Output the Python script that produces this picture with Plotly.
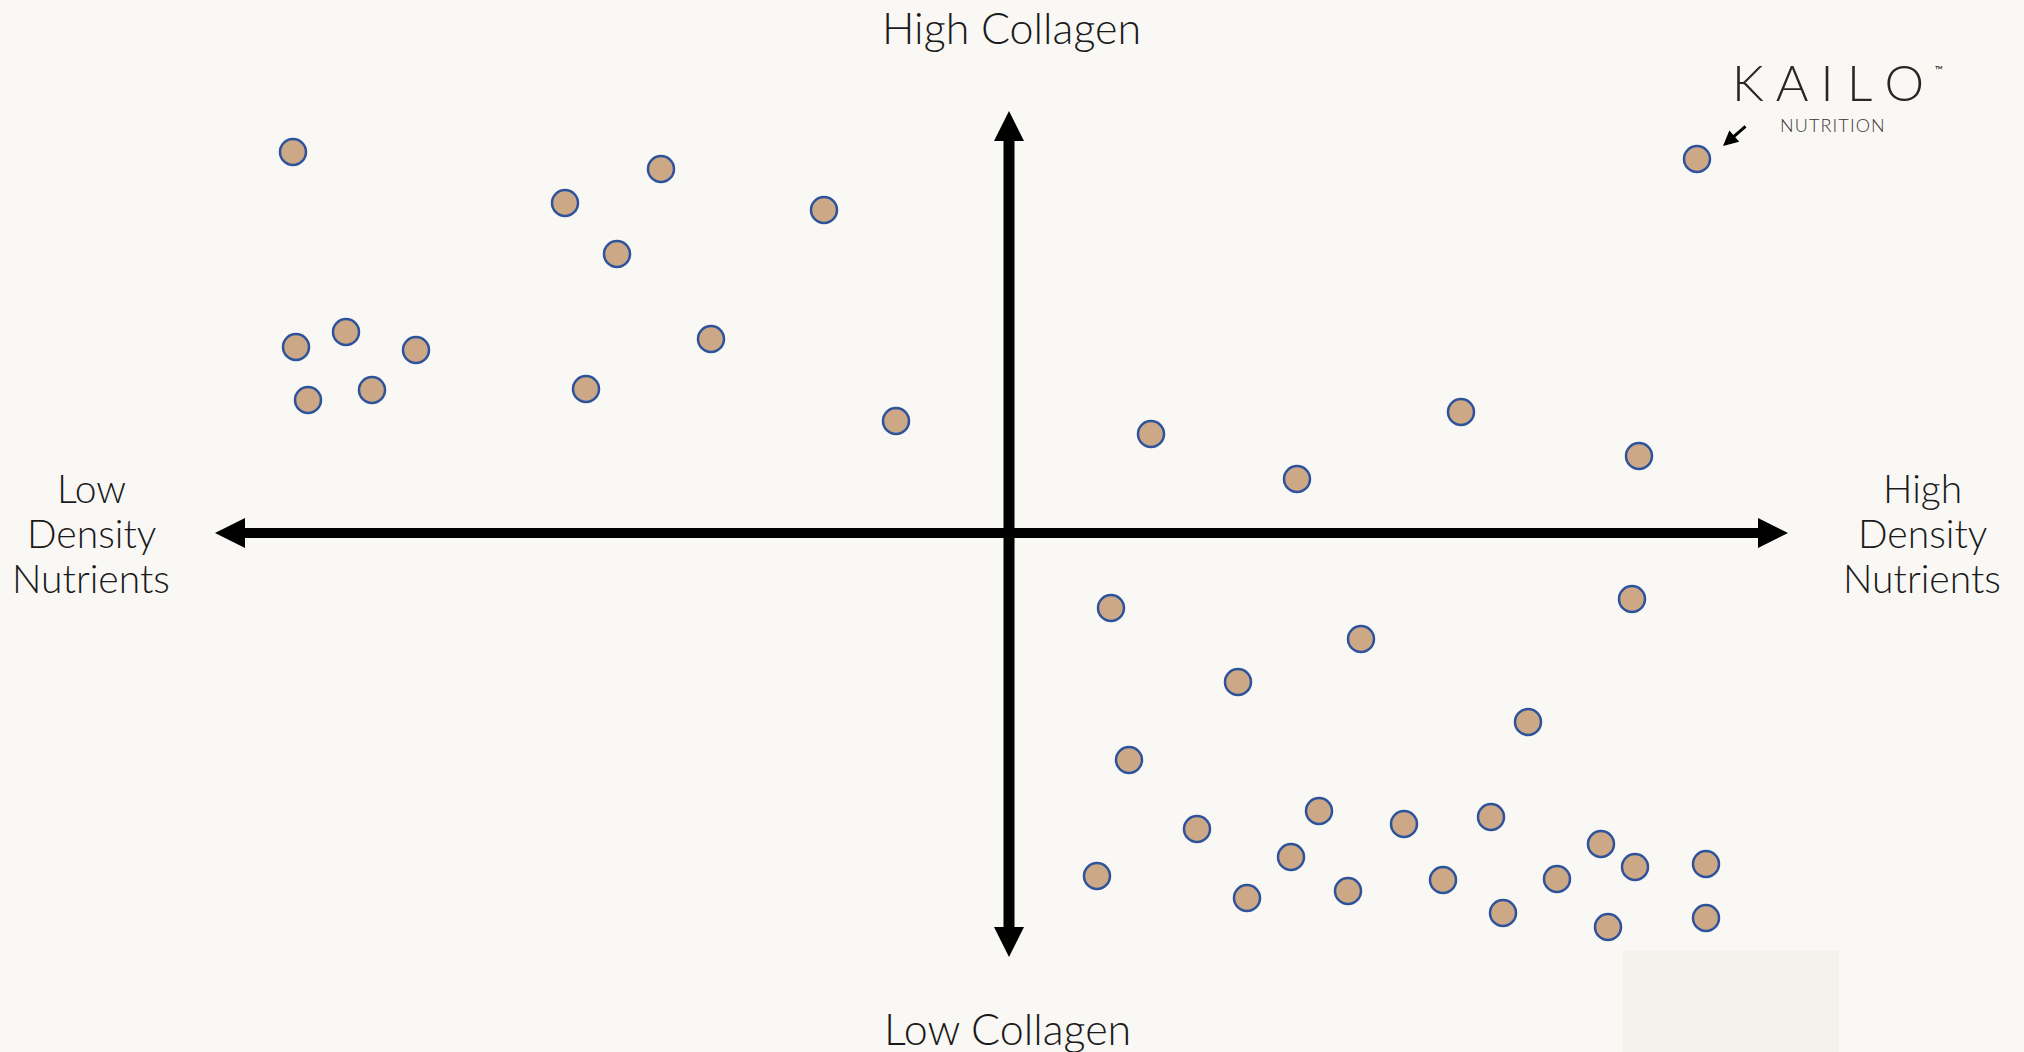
import plotly.graph_objects as go

# Nutrient density (x) vs collagen (y) scores, origin at the cross of the axes
density = [-71.6, -34.8, -44.4, -18.5, -39.2, -66.3, -71.3, -59.3, -29.8, -63.7,
           -70.1, -42.3, -11.3, 68.8, 14.2, 45.2, 63.0, 28.8, 10.2, 62.3,
           35.2, 22.9, 51.9, 12.0, 18.8, 31.0, 39.5, 48.2, 59.2, 28.2,
           62.6, 69.7, 8.8, 23.8, 33.9, 43.4, 54.8, 49.4, 59.9, 69.7]
collagen = [38.1, 36.4, 33.0, 32.3, 27.9, 20.1, 18.6, 18.3, 19.4, 14.3,
            13.3, 14.4, 11.2, 37.4, 9.9, 12.1, 7.7, 5.4, -7.5, -6.6,
            -10.6, -14.9, -18.9, -22.7, -29.6, -27.8, -29.1, -28.4, -31.1, -32.4,
            -33.4, -33.1, -34.3, -36.5, -35.8, -34.7, -34.6, -38.0, -39.4, -38.5]

kailo_point = (68.8, 37.4)

x_axis_extent = (-79.4, 77.9)
y_axis_extent = (-42.4, 42.2)

label_top = "High Collagen"
label_bottom = "Low Collagen"
label_left_lines = ["Low", "Density", "Nutrients"]
label_right_lines = ["High", "Density", "Nutrients"]

BG = "#F9F8F5"
FONT = "Lato"
HEAD_LEN = 3.0
HEAD_HALF = 1.5
LINE_STEP = 4.5

fig = go.Figure()

shapes = []
# faint rectangle bottom right
shapes.append(dict(type="rect", xref="x", yref="y", x0=61.4, x1=83.0, y0=-52.5, y1=-41.8,
                   fillcolor="#F3F2EC", line=dict(width=0), layer="below"))
# axes lines
x0, x1 = x_axis_extent
y0, y1 = y_axis_extent
shapes.append(dict(type="line", xref="x", yref="y", x0=x0 + HEAD_LEN, x1=x1 - HEAD_LEN, y0=0, y1=0,
                   line=dict(color="black", width=10)))
shapes.append(dict(type="line", xref="x", yref="y", x0=0, x1=0, y0=y0 + HEAD_LEN, y1=y1 - HEAD_LEN,
                   line=dict(color="black", width=11)))
# arrow heads
def tri(p1, p2, p3):
    return dict(type="path", xref="x", yref="y",
                path=f"M {p1[0]},{p1[1]} L {p2[0]},{p2[1]} L {p3[0]},{p3[1]} Z",
                fillcolor="black", line=dict(color="black", width=0))
shapes.append(tri((x0, 0), (x0 + HEAD_LEN, HEAD_HALF), (x0 + HEAD_LEN, -HEAD_HALF)))
shapes.append(tri((x1, 0), (x1 - HEAD_LEN, HEAD_HALF), (x1 - HEAD_LEN, -HEAD_HALF)))
shapes.append(tri((0, y1), (HEAD_HALF, y1 - HEAD_LEN), (-HEAD_HALF, y1 - HEAD_LEN)))
shapes.append(tri((0, y0), (HEAD_HALF, y0 + HEAD_LEN), (-HEAD_HALF, y0 + HEAD_LEN)))

fig.add_trace(go.Scatter(
    x=density, y=collagen, mode="markers",
    marker=dict(size=26, color="#CDA886", line=dict(color="#2E539B", width=2.5)),
    hoverinfo="skip", showlegend=False,
))

TXT = "#1A1A1A"
font = dict(family=FONT, size=43, color=TXT, weight=300)
side_font = dict(family=FONT, size=39, color=TXT, weight=300)
annotations = [
    dict(x=0.2, y=50.6, text=label_top, showarrow=False, font=font, xanchor="center", yanchor="middle"),
    dict(x=-0.2, y=-49.5, text=label_bottom, showarrow=False, font=font, xanchor="center", yanchor="middle"),
    dict(x=81.9, y=45.1, text="K A I L O", showarrow=False,
         font=dict(family=FONT, size=50, color="#2A2627", weight=300), xanchor="center", yanchor="middle"),
    dict(x=93.0, y=46.4, text="™", showarrow=False,
         font=dict(family=FONT, size=11, color="#2A2627"), xanchor="center", yanchor="middle"),
    dict(x=82.3, y=40.8, text="N U T R I T I O N".replace(" ", "\u200a"), showarrow=False,
         font=dict(family=FONT, size=18, color="#3A3637", weight=300), xanchor="center", yanchor="middle"),
    dict(x=kailo_point[0] + 2.6, y=kailo_point[1] + 1.3, text="", showarrow=True, arrowhead=2, arrowsize=1,
         arrowwidth=3, arrowcolor="black", ax=24, ay=-21, xref="x", yref="y"),
]
for i, line in enumerate(label_left_lines):
    annotations.append(dict(x=-91.8, y=LINE_STEP * (1 - i), text=line, showarrow=False, font=side_font,
                            xanchor="center", yanchor="middle"))
for i, line in enumerate(label_right_lines):
    annotations.append(dict(x=91.3, y=LINE_STEP * (1 - i), text=line, showarrow=False, font=side_font,
                            xanchor="center", yanchor="middle"))

fig.update_layout(
    width=2024, height=1052,
    margin=dict(l=0, r=0, t=0, b=0),
    paper_bgcolor=BG, plot_bgcolor=BG,
    xaxis=dict(range=[-100.9, 101.5], visible=False, fixedrange=True),
    yaxis=dict(range=[-51.9, 53.3], visible=False, fixedrange=True),
    shapes=shapes, annotations=annotations,
)

fig.write_html("out.html", config={"displayModeBar": False},
               post_script="document.body.style.margin='0';document.body.style.overflow='hidden';")
